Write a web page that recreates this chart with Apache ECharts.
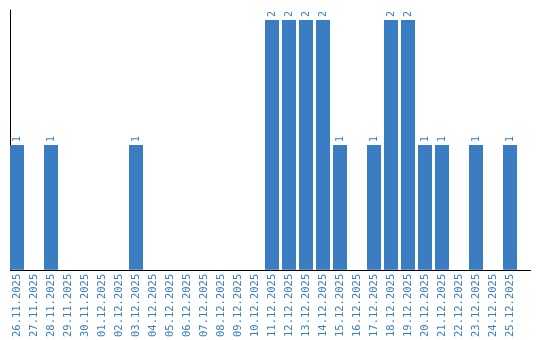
<!DOCTYPE html>
<html><head><meta charset="utf-8">
<script src="https://cdn.jsdelivr.net/npm/echarts@6/dist/echarts.min.js"></script>
<style>html,body{margin:0;padding:0;background:#fff}#c{width:540px;height:340px}</style>
</head><body><div id="c"></div>
<script>
const categories = ['26.11.2025','27.11.2025','28.11.2025','29.11.2025','30.11.2025','01.12.2025','02.12.2025','03.12.2025','04.12.2025','05.12.2025','06.12.2025','07.12.2025','08.12.2025','09.12.2025','10.12.2025','11.12.2025','12.12.2025','13.12.2025','14.12.2025','15.12.2025','16.12.2025','17.12.2025','18.12.2025','19.12.2025','20.12.2025','21.12.2025','22.12.2025','23.12.2025','24.12.2025','25.12.2025'];
const values = [1,0,1,0,0,0,0,1,0,0,0,0,0,0,0,2,2,2,2,1,0,1,2,2,1,1,0,1,0,1];
const yMax = 2.08;

const blue = '#3b7dc2';
const font = 'DejaVu Sans Mono';
const chart = echarts.init(document.getElementById('c'));
chart.setOption({
  animation: false,
  grid: {left: 8.5, top: 10, width: 510, height: 260, containLabel: false},
  xAxis: {
    type: 'category', data: categories,
    axisLine: {show: false}, axisTick: {show: false},
    axisLabel: {rotate: 90, interval: 0, color: blue, fontFamily: font, fontSize: 10.5, margin: 4}
  },
  yAxis: {
    type: 'value', min: 0, max: yMax, offset: -1.5,
    axisLine: {show: true, lineStyle: {color: '#000', width: 1}},
    axisTick: {show: false}, axisLabel: {show: false}, splitLine: {show: false}
  },
  graphic: [{type: 'line', shape: {x1: 10, y1: 270.5, x2: 531, y2: 270.5}, style: {stroke: '#000', lineWidth: 1}, z: 100}],
  series: [{
    type: 'bar', data: values, barWidth: 14,
    itemStyle: {color: blue},
    label: {show: true, position: 'top', rotate: 90, distance: 3, color: blue, fontFamily: font, fontSize: 10,
      align: 'left', verticalAlign: 'middle',
      formatter: p => p.value ? String(p.value) : ''}
  }]
});
</script></body></html>
